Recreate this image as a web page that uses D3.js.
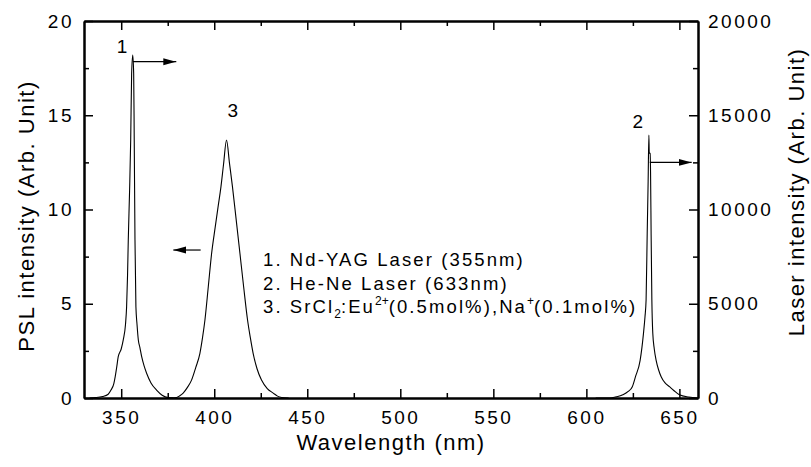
<!DOCTYPE html>
<html>
<head>
<meta charset="utf-8">
<script src="https://cdn.jsdelivr.net/npm/d3@7"></script>
<style>
    body { margin: 0; background: #fff; }
    svg text { font-family: "Liberation Sans", Arial, sans-serif; fill: #000; }
    .axis path, .axis line { stroke: #000; }
</style>
</head>
<body>
<svg id="chart" width="811" height="467"></svg>
<script>
// Nd-YAG laser line (right axis, arb. unit)
const ndWavelength = [333, 336, 340, 343, 344.5, 346, 346.8, 347.6, 348.4, 350, 351.1, 352.3, 352.9, 353.4, 353.8, 354.5, 355.1, 355.6, 356.2, 356.7, 357.0, 357.4, 357.9, 358.5, 359.2, 360, 361, 362.3, 363.7, 366, 369, 372, 375.3, 378];
const ndIntensity  = [0, 20, 80, 200, 420, 750, 1150, 1650, 2190, 2600, 3080, 3900, 4840, 6500, 8400, 11000, 13700, 17200, 18200, 17200, 13700, 8400, 4840, 3900, 3080, 2700, 2190, 1700, 1300, 800, 420, 150, 20, 0];

// He-Ne laser line (right axis)
const heWavelength = [605, 612.4, 616, 619.6, 622.5, 624.7, 626.4, 628.9, 630.7, 631.5, 632.1, 632.7, 633.2, 633.6, 633.8, 634.3, 634.5, 634.8, 635.2, 635.7, 636.5, 637.5, 638.8, 640.2, 642.3, 644.7, 647, 650, 655, 660];
const heIntensity  = [0, 0, 60, 170, 350, 600, 1130, 2000, 3430, 4300, 5200, 8740, 11500, 13950, 13000, 12980, 12000, 8740, 5200, 3430, 2600, 2000, 1500, 1130, 800, 600, 400, 170, 50, 0];

// SrCl2:Eu PSL band (left axis)
const pslWavelength = [376, 379.8, 381.5, 383.3, 385.5, 387.8, 390, 392.3, 393.7, 395, 396.8, 398.6, 400.5, 402, 403.6, 405, 406.6, 408.2, 409.8, 411.8, 413.8, 415.8, 417.9, 419.4, 420.9, 423, 425.4, 428.5, 431.7, 434, 436.2, 440];
const pslIntensity  = [0, 0.03, 0.12, 0.26, 0.55, 0.95, 1.6, 2.37, 3.2, 4.14, 5.9, 7.68, 9.05, 10.1, 11.2, 12.4, 13.69, 12.45, 11.2, 9.45, 7.68, 5.9, 4.14, 3.2, 2.37, 1.55, 0.95, 0.5, 0.26, 0.1, 0.03, 0];

// axis ticks
const xTicks = [350, 400, 450, 500, 550, 600, 650];
const xMinor = [375, 425, 475, 525, 575, 625];
const yLeftTicks = [0, 5, 10, 15, 20];
const yLeftMinor = [2.5, 7.5, 12.5, 17.5];
const yRightTicks = [0, 5000, 10000, 15000, 20000];
const yRightMinor = [2500, 7500, 12500, 17500];

// peak labels and arrows (wavelength, PSL units)
const peakLabels = [
    { text: '1', x: 350.4, y: 18.3 },
    { text: '3', x: 410, y: 14.9 },
    { text: '2', x: 627.6, y: 14.3 }
];
const arrows = [
    { x1: 356.3, x2: 379.6, y: 17.84 },
    { x1: 634.1, x2: 656.6, y: 12.5 },
    { x1: 392.7, x2: 378.0, y: 7.85 }
];

const width = 811, height = 467;
const margin = { top: 21, right: 113, bottom: 69, left: 84 };
const innerW = width - margin.left - margin.right;
const innerH = height - margin.top - margin.bottom;

const svg = d3.select('#chart');
const g = svg.append('g').attr('transform', `translate(${margin.left},${margin.top})`);

const x = d3.scaleLinear().domain([330, 660]).range([0, innerW]);
const yL = d3.scaleLinear().domain([0, 20]).range([innerH, 0]);
const yR = d3.scaleLinear().domain([0, 20000]).range([innerH, 0]);

// arrow head
svg.append('defs').append('marker')
    .attr('id', 'head')
    .attr('markerUnits', 'userSpaceOnUse')
    .attr('markerWidth', 13).attr('markerHeight', 8)
    .attr('refX', 13).attr('refY', 4)
    .attr('orient', 'auto')
    .append('path').attr('d', 'M0,0.5L13,4L0,7.5Z').attr('fill', '#000');

// curves
const lineR = d3.line().x(d => x(d[0])).y(d => yR(d[1])).curve(d3.curveMonotoneX);
const lineL = d3.line().x(d => x(d[0])).y(d => yL(d[1])).curve(d3.curveMonotoneX);

const curves = g.append('g').attr('fill', 'none').attr('stroke', '#000').attr('stroke-width', 1.1);
curves.append('path').attr('d', lineR(d3.zip(ndWavelength, ndIntensity)));
curves.append('path').attr('d', lineR(d3.zip(heWavelength, heIntensity)));
curves.append('path').attr('d', lineL(d3.zip(pslWavelength, pslIntensity)));

// axes, ticks pointing inward
const tickFont = 19, tickSpacing = '2.5px';

function styleAxis(sel) {
    sel.attr('class', 'axis');
    sel.select('.domain').attr('stroke-width', 2);
    sel.selectAll('.tick line').attr('stroke-width', 1.5);
    sel.selectAll('text')
        .style('font-size', tickFont + 'px')
        .style('letter-spacing', tickSpacing)
        .attr('fill', '#000');
}

g.append('g').attr('transform', `translate(0,${innerH})`)
    .call(d3.axisBottom(x).tickValues(xTicks).tickSize(-9).tickSizeOuter(0).tickPadding(13))
    .call(styleAxis);
g.append('g').attr('transform', `translate(0,${innerH})`)
    .call(d3.axisBottom(x).tickValues(xMinor).tickSize(-5).tickSizeOuter(0).tickFormat(''))
    .call(styleAxis);
g.append('g')
    .call(d3.axisTop(x).tickValues(xTicks).tickSize(-9).tickSizeOuter(0).tickFormat(''))
    .call(styleAxis);
g.append('g')
    .call(d3.axisTop(x).tickValues(xMinor).tickSize(-5).tickSizeOuter(0).tickFormat(''))
    .call(styleAxis);

g.append('g')
    .call(d3.axisLeft(yL).tickValues(yLeftTicks).tickSize(-9).tickSizeOuter(0).tickPadding(10))
    .call(styleAxis);
g.append('g')
    .call(d3.axisLeft(yL).tickValues(yLeftMinor).tickSize(-5).tickSizeOuter(0).tickFormat(''))
    .call(styleAxis);

g.append('g').attr('transform', `translate(${innerW},0)`)
    .call(d3.axisRight(yR).tickValues(yRightTicks).tickSize(-9).tickSizeOuter(0).tickPadding(10).tickFormat(d3.format('d')))
    .call(styleAxis);
g.append('g').attr('transform', `translate(${innerW},0)`)
    .call(d3.axisRight(yR).tickValues(yRightMinor).tickSize(-5).tickSizeOuter(0).tickFormat(''))
    .call(styleAxis);

// axis titles
const titleSize = '22px', titleSpacing = '1.5px';
svg.append('text')
    .attr('transform', `translate(${margin.left + innerW / 2},450)`)
    .attr('text-anchor', 'middle')
    .style('font-size', titleSize).style('letter-spacing', titleSpacing)
    .text('Wavelength (nm)');
svg.append('text')
    .attr('transform', 'translate(34,216) rotate(-90)')
    .attr('text-anchor', 'middle')
    .style('font-size', titleSize).style('letter-spacing', titleSpacing)
    .text('PSL intensity (Arb. Unit)');
svg.append('text')
    .attr('transform', 'translate(804,192) rotate(-90)')
    .attr('text-anchor', 'middle')
    .style('font-size', titleSize).style('letter-spacing', titleSpacing)
    .text('Laser intensity (Arb. Unit)');

// peak labels
g.selectAll('.peak-label')
    .data(peakLabels)
    .enter().append('text')
    .attr('class', 'peak-label')
    .attr('x', d => x(d.x))
    .attr('y', d => yL(d.y))
    .attr('text-anchor', 'middle')
    .style('font-size', tickFont + 'px')
    .text(d => d.text);

// arrows
g.selectAll('.arrow')
    .data(arrows)
    .enter().append('line')
    .attr('class', 'arrow')
    .attr('x1', d => x(d.x1)).attr('x2', d => x(d.x2))
    .attr('y1', d => yL(d.y)).attr('y2', d => yL(d.y))
    .attr('stroke', '#000').attr('stroke-width', 1.2)
    .attr('marker-end', 'url(#head)');

// legend text block
const legend = svg.append('g')
    .attr('transform', 'translate(263,266)')
    .style('font-size', '18.5px')
    .style('letter-spacing', '2.1px');
legend.append('text').attr('y', 0).text('1. Nd-YAG Laser (355nm)');
legend.append('text').attr('y', 24).text('2. He-Ne Laser (633nm)');
const t3 = legend.append('text').attr('y', 47);
t3.append('tspan').text('3. SrCl');
t3.append('tspan').attr('dy', 5).style('font-size', '12px').style('letter-spacing', '0px').text('2');
t3.append('tspan').attr('dy', -5).text(':Eu');
t3.append('tspan').attr('dy', -8).style('font-size', '12px').style('letter-spacing', '0px').text('2+');
t3.append('tspan').attr('dy', 8).text('(0.5mol%),Na');
t3.append('tspan').attr('dy', -8).style('font-size', '12px').style('letter-spacing', '0px').text('+');
t3.append('tspan').attr('dy', 8).text('(0.1mol%)');
</script>
</body>
</html>
